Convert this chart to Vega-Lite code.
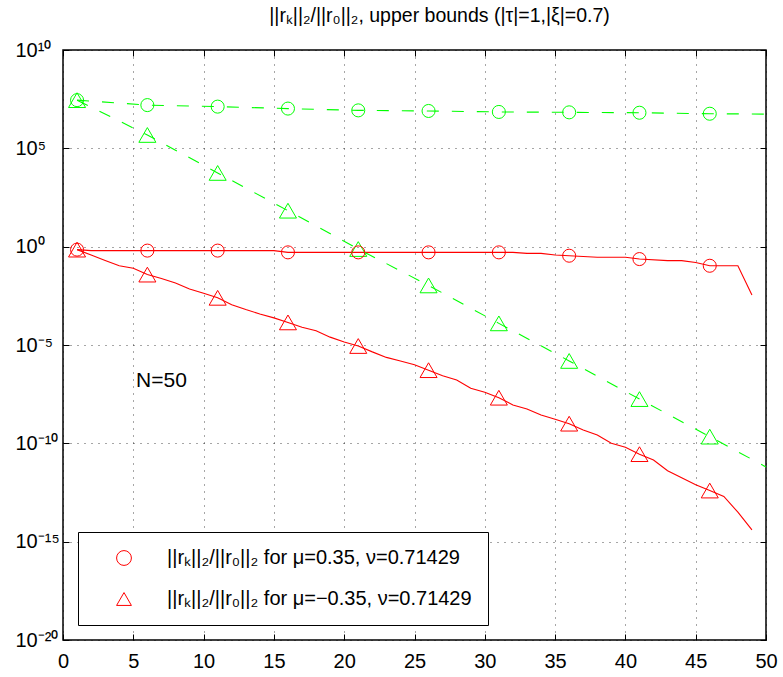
{
  "$schema": "https://vega.github.io/schema/vega-lite/v6.json",
  "width": 703,
  "height": 590,
  "autosize": {"type": "none"},
  "padding": {"left": 63, "top": 50, "right": 17, "bottom": 37},
  "background": "white",
  "title": {
    "text": "||rₖ||₂/||r₀||₂, upper bounds (|τ|=1,|ξ|=0.7)",
    "font": "Liberation Sans",
    "fontSize": 19.5,
    "fontWeight": "normal",
    "color": "black",
    "anchor": "middle",
    "dx": 25,
    "offset": 14
  },
  "config": {
    "view": {"stroke": "black", "strokeWidth": 1.5},
    "font": "Liberation Sans",
    "axis": {
      "domain": false,
      "labelFont": "Liberation Sans",
      "labelFontSize": 20,
      "labelColor": "black",
      "tickColor": "black",
      "tickSize": -6,
      "tickWidth": 1,
      "gridColor": "black",
      "gridDash": [1, 6],
      "gridWidth": 1,
      "gridOpacity": 0.7,
      "title": null,
      "labelOverlap": false
    }
  },
  "data": {
    "values": [
      {"k": 1, "curve": "residual", "mu": "0.35", "value": 0.708},
      {"k": 2, "curve": "residual", "mu": "0.35", "value": 0.631},
      {"k": 6, "curve": "residual", "mu": "0.35", "value": 0.631},
      {"k": 11, "curve": "residual", "mu": "0.35", "value": 0.631},
      {"k": 15, "curve": "residual", "mu": "0.35", "value": 0.631},
      {"k": 16, "curve": "residual", "mu": "0.35", "value": 0.513},
      {"k": 21, "curve": "residual", "mu": "0.35", "value": 0.513},
      {"k": 26, "curve": "residual", "mu": "0.35", "value": 0.513},
      {"k": 31, "curve": "residual", "mu": "0.35", "value": 0.513},
      {"k": 32, "curve": "residual", "mu": "0.35", "value": 0.513},
      {"k": 33, "curve": "residual", "mu": "0.35", "value": 0.457},
      {"k": 34, "curve": "residual", "mu": "0.35", "value": 0.457},
      {"k": 35, "curve": "residual", "mu": "0.35", "value": 0.38},
      {"k": 36, "curve": "residual", "mu": "0.35", "value": 0.347},
      {"k": 38, "curve": "residual", "mu": "0.35", "value": 0.288},
      {"k": 40, "curve": "residual", "mu": "0.35", "value": 0.288},
      {"k": 41, "curve": "residual", "mu": "0.35", "value": 0.234},
      {"k": 43, "curve": "residual", "mu": "0.35", "value": 0.195},
      {"k": 44, "curve": "residual", "mu": "0.35", "value": 0.195},
      {"k": 45, "curve": "residual", "mu": "0.35", "value": 0.158},
      {"k": 46, "curve": "residual", "mu": "0.35", "value": 0.107},
      {"k": 48, "curve": "residual", "mu": "0.35", "value": 0.107},
      {"k": 49, "curve": "residual", "mu": "0.35", "value": 0.00347},

      {"k": 1, "curve": "residual", "mu": "−0.35", "value": 0.708},
      {"k": 2, "curve": "residual", "mu": "−0.35", "value": 0.38},
      {"k": 3, "curve": "residual", "mu": "−0.35", "value": 0.2},
      {"k": 4, "curve": "residual", "mu": "−0.35", "value": 0.107},
      {"k": 5, "curve": "residual", "mu": "−0.35", "value": 0.0794},
      {"k": 6, "curve": "residual", "mu": "−0.35", "value": 0.038},
      {"k": 7, "curve": "residual", "mu": "−0.35", "value": 0.024},
      {"k": 8, "curve": "residual", "mu": "−0.35", "value": 0.0141},
      {"k": 9, "curve": "residual", "mu": "−0.35", "value": 0.00708},
      {"k": 10, "curve": "residual", "mu": "−0.35", "value": 0.00427},
      {"k": 11, "curve": "residual", "mu": "−0.35", "value": 0.00251},
      {"k": 12, "curve": "residual", "mu": "−0.35", "value": 0.00112},
      {"k": 13, "curve": "residual", "mu": "−0.35", "value": 6.31e-4},
      {"k": 14, "curve": "residual", "mu": "−0.35", "value": 3.8e-4},
      {"k": 15, "curve": "residual", "mu": "−0.35", "value": 2.4e-4},
      {"k": 16, "curve": "residual", "mu": "−0.35", "value": 1.41e-4},
      {"k": 17, "curve": "residual", "mu": "−0.35", "value": 7.94e-5},
      {"k": 18, "curve": "residual", "mu": "−0.35", "value": 5.25e-5},
      {"k": 19, "curve": "residual", "mu": "−0.35", "value": 2.51e-5},
      {"k": 20, "curve": "residual", "mu": "−0.35", "value": 1.41e-5},
      {"k": 21, "curve": "residual", "mu": "−0.35", "value": 8.91e-6},
      {"k": 22, "curve": "residual", "mu": "−0.35", "value": 4.47e-6},
      {"k": 23, "curve": "residual", "mu": "−0.35", "value": 2.34e-6},
      {"k": 24, "curve": "residual", "mu": "−0.35", "value": 1.55e-6},
      {"k": 25, "curve": "residual", "mu": "−0.35", "value": 1.0e-6},
      {"k": 26, "curve": "residual", "mu": "−0.35", "value": 5.25e-7},
      {"k": 27, "curve": "residual", "mu": "−0.35", "value": 2.75e-7},
      {"k": 28, "curve": "residual", "mu": "−0.35", "value": 1.66e-7},
      {"k": 29, "curve": "residual", "mu": "−0.35", "value": 6.31e-8},
      {"k": 30, "curve": "residual", "mu": "−0.35", "value": 3.98e-8},
      {"k": 31, "curve": "residual", "mu": "−0.35", "value": 2.09e-8},
      {"k": 32, "curve": "residual", "mu": "−0.35", "value": 8.91e-9},
      {"k": 33, "curve": "residual", "mu": "−0.35", "value": 5.62e-9},
      {"k": 34, "curve": "residual", "mu": "−0.35", "value": 2.75e-9},
      {"k": 35, "curve": "residual", "mu": "−0.35", "value": 1.66e-9},
      {"k": 36, "curve": "residual", "mu": "−0.35", "value": 1.0e-9},
      {"k": 37, "curve": "residual", "mu": "−0.35", "value": 4.79e-10},
      {"k": 38, "curve": "residual", "mu": "−0.35", "value": 2.63e-10},
      {"k": 39, "curve": "residual", "mu": "−0.35", "value": 1.0e-10},
      {"k": 40, "curve": "residual", "mu": "−0.35", "value": 6.31e-11},
      {"k": 41, "curve": "residual", "mu": "−0.35", "value": 2.82e-11},
      {"k": 42, "curve": "residual", "mu": "−0.35", "value": 1.41e-11},
      {"k": 43, "curve": "residual", "mu": "−0.35", "value": 4.07e-12},
      {"k": 44, "curve": "residual", "mu": "−0.35", "value": 1.78e-12},
      {"k": 45, "curve": "residual", "mu": "−0.35", "value": 7.94e-13},
      {"k": 46, "curve": "residual", "mu": "−0.35", "value": 3.98e-13},
      {"k": 47, "curve": "residual", "mu": "−0.35", "value": 2.0e-13},
      {"k": 48, "curve": "residual", "mu": "−0.35", "value": 3.16e-14},
      {"k": 49, "curve": "residual", "mu": "−0.35", "value": 3.98e-15},

      {"k": 1, "curve": "bound", "mu": "0.35", "value": 2.82e7},
      {"k": 6, "curve": "bound", "mu": "0.35", "value": 1.58e7},
      {"k": 11, "curve": "bound", "mu": "0.35", "value": 1.32e7},
      {"k": 16, "curve": "bound", "mu": "0.35", "value": 1.05e7},
      {"k": 21, "curve": "bound", "mu": "0.35", "value": 8.51e6},
      {"k": 26, "curve": "bound", "mu": "0.35", "value": 7.94e6},
      {"k": 31, "curve": "bound", "mu": "0.35", "value": 7.08e6},
      {"k": 36, "curve": "bound", "mu": "0.35", "value": 6.76e6},
      {"k": 41, "curve": "bound", "mu": "0.35", "value": 6.46e6},
      {"k": 46, "curve": "bound", "mu": "0.35", "value": 5.75e6},
      {"k": 50, "curve": "bound", "mu": "0.35", "value": 5.5e6},

      {"k": 1, "curve": "bound", "mu": "−0.35", "value": 2.82e7},
      {"k": 6, "curve": "bound", "mu": "−0.35", "value": 4.79e5},
      {"k": 11, "curve": "bound", "mu": "−0.35", "value": 5620},
      {"k": 16, "curve": "bound", "mu": "−0.35", "value": 67.6},
      {"k": 21, "curve": "bound", "mu": "−0.35", "value": 0.759},
      {"k": 26, "curve": "bound", "mu": "−0.35", "value": 0.0107},
      {"k": 31, "curve": "bound", "mu": "−0.35", "value": 1.26e-4},
      {"k": 36, "curve": "bound", "mu": "−0.35", "value": 1.55e-6},
      {"k": 41, "curve": "bound", "mu": "−0.35", "value": 1.78e-8},
      {"k": 46, "curve": "bound", "mu": "−0.35", "value": 2.19e-10},
      {"k": 50, "curve": "bound", "mu": "−0.35", "value": 6.31e-12}
    ]
  },
  "resolve": {"axis": {"x": "independent", "y": "independent"}},
  "layer": [
    {
      "transform": [{"filter": "datum.curve == 'residual'"}],
      "mark": {"type": "line", "color": "#ff0000", "strokeWidth": 1.1},
      "encoding": {
        "x": {
          "field": "k", "type": "quantitative",
          "scale": {"domain": [0, 50], "nice": false, "zero": false},
          "axis": {"orient": "bottom", "values": [0, 5, 10, 15, 20, 25, 30, 35, 40, 45, 50], "grid": true, "labelFlush": false, "labelPadding": 17}
        },
        "y": {
          "field": "value", "type": "quantitative",
          "scale": {"type": "log", "domain": [1e-20, 1e10], "nice": false},
          "axis": {
            "orient": "left",
            "values": [1e-20, 1e-15, 1e-10, 1e-5, 1, 1e5, 1e10],
            "grid": true,
            "labelAlign": "left",
            "labelBaseline": "middle",
            "labelPadding": 54,
            "labelExpr": "datum.value >= 1e9 ? '10¹⁰' : datum.value >= 1e4 ? '10⁵' : datum.value >= 0.1 ? '10⁰' : datum.value >= 1e-6 ? '10⁻⁵' : datum.value >= 1e-11 ? '10⁻¹⁰' : datum.value >= 1e-16 ? '10⁻¹⁵' : '10⁻²⁰'"
          }
        },
        "detail": {"field": "mu"}
      }
    },
    {
      "transform": [{"filter": "datum.curve == 'bound'"}],
      "mark": {"type": "line", "color": "#00ff00", "strokeWidth": 1.1, "strokeDash": [12, 13]},
      "encoding": {
        "x": {
          "field": "k", "type": "quantitative",
          "scale": {"domain": [0, 50], "nice": false, "zero": false},
          "axis": {"orient": "top", "values": [0, 5, 10, 15, 20, 25, 30, 35, 40, 45, 50], "grid": false, "labels": false}
        },
        "y": {
          "field": "value", "type": "quantitative",
          "scale": {"type": "log", "domain": [1e-20, 1e10], "nice": false},
          "axis": {"orient": "right", "values": [1e-20, 1e-15, 1e-10, 1e-5, 1, 1e5, 1e10], "grid": false, "labels": false}
        },
        "detail": {"field": "mu"}
      }
    },
    {
      "transform": [{"filter": "(datum.k - 1) % 5 == 0 && datum.k <= 46 && datum.curve == 'bound' && datum.mu == '0.35'"}],
      "mark": {"type": "point", "shape": "circle", "filled": false, "color": "#00ff00", "strokeWidth": 1, "size": 170, "opacity": 1},
      "encoding": {
        "x": {"field": "k", "type": "quantitative", "scale": {"domain": [0, 50], "nice": false, "zero": false}, "axis": null},
        "y": {"field": "value", "type": "quantitative", "scale": {"type": "log", "domain": [1e-20, 1e10], "nice": false}, "axis": null}
      }
    },
    {
      "transform": [{"filter": "(datum.k - 1) % 5 == 0 && datum.k <= 46 && datum.curve == 'bound' && datum.mu == '−0.35'"}],
      "mark": {"type": "point", "shape": "triangle-up", "filled": false, "color": "#00ff00", "strokeWidth": 1, "size": 290, "opacity": 1},
      "encoding": {
        "x": {"field": "k", "type": "quantitative", "scale": {"domain": [0, 50], "nice": false, "zero": false}, "axis": null},
        "y": {"field": "value", "type": "quantitative", "scale": {"type": "log", "domain": [1e-20, 1e10], "nice": false}, "axis": null}
      }
    },
    {
      "transform": [{"filter": "(datum.k - 1) % 5 == 0 && datum.k <= 46 && datum.curve == 'residual' && datum.mu == '0.35'"}],
      "mark": {"type": "point", "filled": false, "color": "#ff0000", "strokeWidth": 1, "size": 170, "opacity": 1},
      "encoding": {
        "x": {"field": "k", "type": "quantitative", "scale": {"domain": [0, 50], "nice": false, "zero": false}, "axis": null},
        "y": {"field": "value", "type": "quantitative", "scale": {"type": "log", "domain": [1e-20, 1e10], "nice": false}, "axis": null},
        "shape": {
          "field": "mu", "type": "nominal",
          "scale": {"domain": ["0.35", "−0.35"], "range": ["circle", "triangle-up"]},
          "legend": {
            "orient": "none",
            "legendX": 15,
            "legendY": 482,
            "title": null,
            "strokeColor": "black",
            "fillColor": "white",
            "padding": 16,
            "labelFont": "Liberation Sans",
            "labelFontSize": 20,
            "labelColor": "black",
            "labelLimit": 600,
            "symbolStrokeColor": "#ff0000",
            "symbolFillColor": "transparent",
            "symbolStrokeWidth": 1,
            "symbolSize": 220,
            "symbolOffset": 20,
            "labelOffset": 33,
            "rowPadding": 21,
            "labelExpr": "'||rₖ||₂/||r₀||₂ for μ=' + datum.label + ', ν=0.71429'"
          }
        }
      }
    },
    {
      "transform": [{"filter": "(datum.k - 1) % 5 == 0 && datum.k <= 46 && datum.curve == 'residual' && datum.mu == '−0.35'"}],
      "mark": {"type": "point", "filled": false, "color": "#ff0000", "strokeWidth": 1, "size": 290, "opacity": 1},
      "encoding": {
        "x": {"field": "k", "type": "quantitative", "scale": {"domain": [0, 50], "nice": false, "zero": false}, "axis": null},
        "y": {"field": "value", "type": "quantitative", "scale": {"type": "log", "domain": [1e-20, 1e10], "nice": false}, "axis": null},
        "shape": {
          "field": "mu", "type": "nominal",
          "scale": {"domain": ["0.35", "−0.35"], "range": ["circle", "triangle-up"]}
        }
      }
    },
    {
      "data": {"values": [{}]},
      "mark": {"type": "text", "align": "left", "baseline": "middle", "fontSize": 21, "font": "Liberation Sans", "color": "black"},
      "encoding": {
        "x": {"datum": 5.2, "type": "quantitative", "scale": {"domain": [0, 50], "nice": false, "zero": false}, "axis": null},
        "y": {"datum": 0.00000015, "type": "quantitative", "scale": {"type": "log", "domain": [1e-20, 1e10], "nice": false}, "axis": null},
        "text": {"value": "N=50"}
      }
    }
  ]
}
